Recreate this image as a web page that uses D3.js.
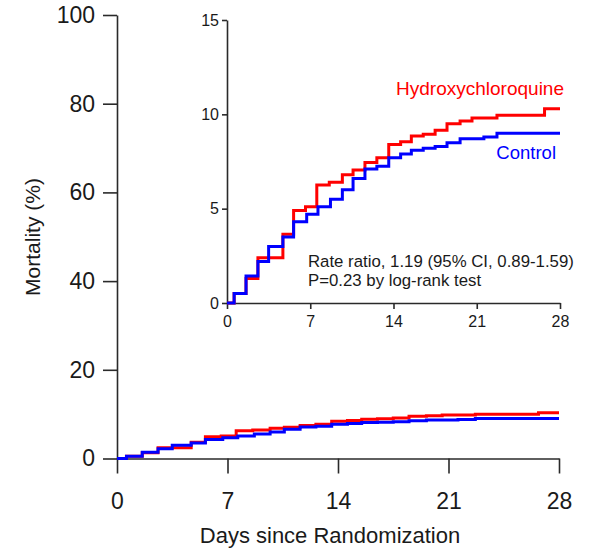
<!DOCTYPE html>
<html>
<head>
<meta charset="utf-8">
<script src="https://cdn.jsdelivr.net/npm/d3@7"></script>
<style>
  html, body { margin: 0; padding: 0; background: #fff; }
  svg { display: block; font-family: "Liberation Sans", Arial, sans-serif; }
</style>
</head>
<body>
<svg id="chart" width="589" height="549"></svg>
<script>
// Cumulative 28-day mortality (%) — step change points (day, value)
const hcqDays   = [0, 0.6, 1.6, 2.6, 4.7, 5.6, 6.6, 7.55, 8.6, 9.7, 10.6, 11.6, 12.6, 13.6, 14.6, 15.5, 16.5, 17.5, 18.5, 19.6, 20.6, 22.7, 26.7];
const hcqValues = [0, 0.5, 1.3, 2.4, 3.65, 4.9, 5.1, 6.25, 6.4, 6.8, 7.05, 7.45, 7.7, 8.4, 8.55, 8.85, 8.95, 9.15, 9.5, 9.65, 9.8, 9.95, 10.3];

const ctrlDays   = [0, 0.6, 1.6, 2.6, 3.5, 4.7, 5.6, 6.7, 7.65, 8.7, 9.7, 10.6, 11.6, 12.6, 13.6, 14.6, 15.5, 16.5, 17.5, 18.5, 19.6, 21.6, 22.7];
const ctrlValues = [0, 0.5, 1.43, 2.2, 3.0, 3.5, 4.3, 4.7, 5.1, 5.5, 6.0, 6.6, 7.1, 7.25, 7.7, 7.9, 8.1, 8.2, 8.3, 8.5, 8.7, 8.8, 9.0];

const dayTicks        = [0, 7, 14, 21, 28];
const mainValueTicks  = [0, 20, 40, 60, 80, 100];
const insetValueTicks = [0, 5, 10, 15];

const seriesNames  = ["Hydroxychloroquine", "Control"];
const seriesColors = ["#ff0000", "#0000ff"];
const statLines = ["Rate ratio, 1.19 (95% CI, 0.89-1.59)", "P=0.23 by log-rank test"];
const xTitle = "Days since Randomization";
const yTitle = "Mortality (%)";

const maxDay = 28;

function toSteps(days, values) {
  const pts = days.map((d, i) => ({ day: d, value: values[i] }));
  pts.push({ day: maxDay, value: values[values.length - 1] });
  return pts;
}
const series = [
  { name: seriesNames[0], color: seriesColors[0], pts: toSteps(hcqDays, hcqValues) },
  { name: seriesNames[1], color: seriesColors[1], pts: toSteps(ctrlDays, ctrlValues) }
];

const svg = d3.select("#chart");
const axisColor = "#2a2a2a";
const textColor = "#1a1a1a";

function drawPanel(g, x, y, cfg) {
  // y axis
  const yAxis = d3.axisLeft(y).tickValues(cfg.yTicks).tickSize(cfg.yTickLen).tickPadding(cfg.yPad).tickSizeOuter(0);
  const ya = g.append("g").attr("transform", `translate(${x.range()[0]},0)`).call(yAxis);
  // x axis
  const xAxis = d3.axisBottom(x).tickValues(dayTicks).tickSize(cfg.xTickLen).tickPadding(cfg.xPad).tickSizeOuter(0);
  const xa = g.append("g").attr("transform", `translate(0,${y.range()[0]})`).call(xAxis);
  [ya, xa].forEach(a => {
    a.selectAll("path.domain").attr("stroke", axisColor).attr("stroke-width", cfg.axisW);
    a.selectAll(".tick line").attr("stroke", axisColor).attr("stroke-width", cfg.axisW);
    a.selectAll(".tick text").attr("fill", textColor)
      .style("font-family", '"Liberation Sans", Arial, sans-serif')
      .style("font-size", cfg.fontSize + "px");
  });

  const line = d3.line().curve(d3.curveStepAfter).x(d => x(d.day)).y(d => y(d.value));
  series.forEach(s => {
    g.append("path")
      .datum(s.pts)
      .attr("fill", "none")
      .attr("stroke", s.color)
      .attr("stroke-width", cfg.lineW)
      .attr("stroke-linejoin", "miter")
      .attr("stroke-linecap", "butt")
      .attr("d", line);
  });
}

// Main panel, 0–100 %
const xMain = d3.scaleLinear().domain([0, maxDay]).range([117, 559]);
const yMain = d3.scaleLinear().domain([0, 100]).range([458.5, 15]);
drawPanel(svg.append("g"), xMain, yMain, {
  yTicks: mainValueTicks, yTickLen: 14, yPad: 8, xTickLen: 15, xPad: 19,
  fontSize: 23, lineW: 3, axisW: 1.6
});

svg.append("text")
  .attr("x", 330).attr("y", 543)
  .attr("text-anchor", "middle")
  .attr("fill", textColor)
  .style("font-size", "22px")
  .text(xTitle);

svg.append("text")
  .attr("transform", "translate(40,237) rotate(-90)")
  .attr("text-anchor", "middle")
  .attr("fill", textColor)
  .style("font-size", "21px")
  .text(yTitle);

// Inset panel, zoomed 0–15 %
const xIn = d3.scaleLinear().domain([0, maxDay]).range([227, 560]);
const yIn = d3.scaleLinear().domain([0, 15]).range([303, 20]);
drawPanel(svg.append("g"), xIn, yIn, {
  yTicks: insetValueTicks, yTickLen: 5, yPad: 3, xTickLen: 6, xPad: 7,
  fontSize: 16, lineW: 3, axisW: 1.6
});

svg.append("text")
  .attr("x", 564).attr("y", 95)
  .attr("text-anchor", "end")
  .attr("fill", seriesColors[0])
  .style("font-size", "19px")
  .text(seriesNames[0]);

svg.append("text")
  .attr("x", 556).attr("y", 159)
  .attr("text-anchor", "end")
  .attr("fill", seriesColors[1])
  .style("font-size", "18.5px")
  .text(seriesNames[1]);

statLines.forEach((t, i) => {
  svg.append("text")
    .attr("x", 308).attr("y", 267 + i * 18.5)
    .attr("fill", textColor)
    .style("font-size", "16.8px")
    .text(t);
});
</script>
</body>
</html>
